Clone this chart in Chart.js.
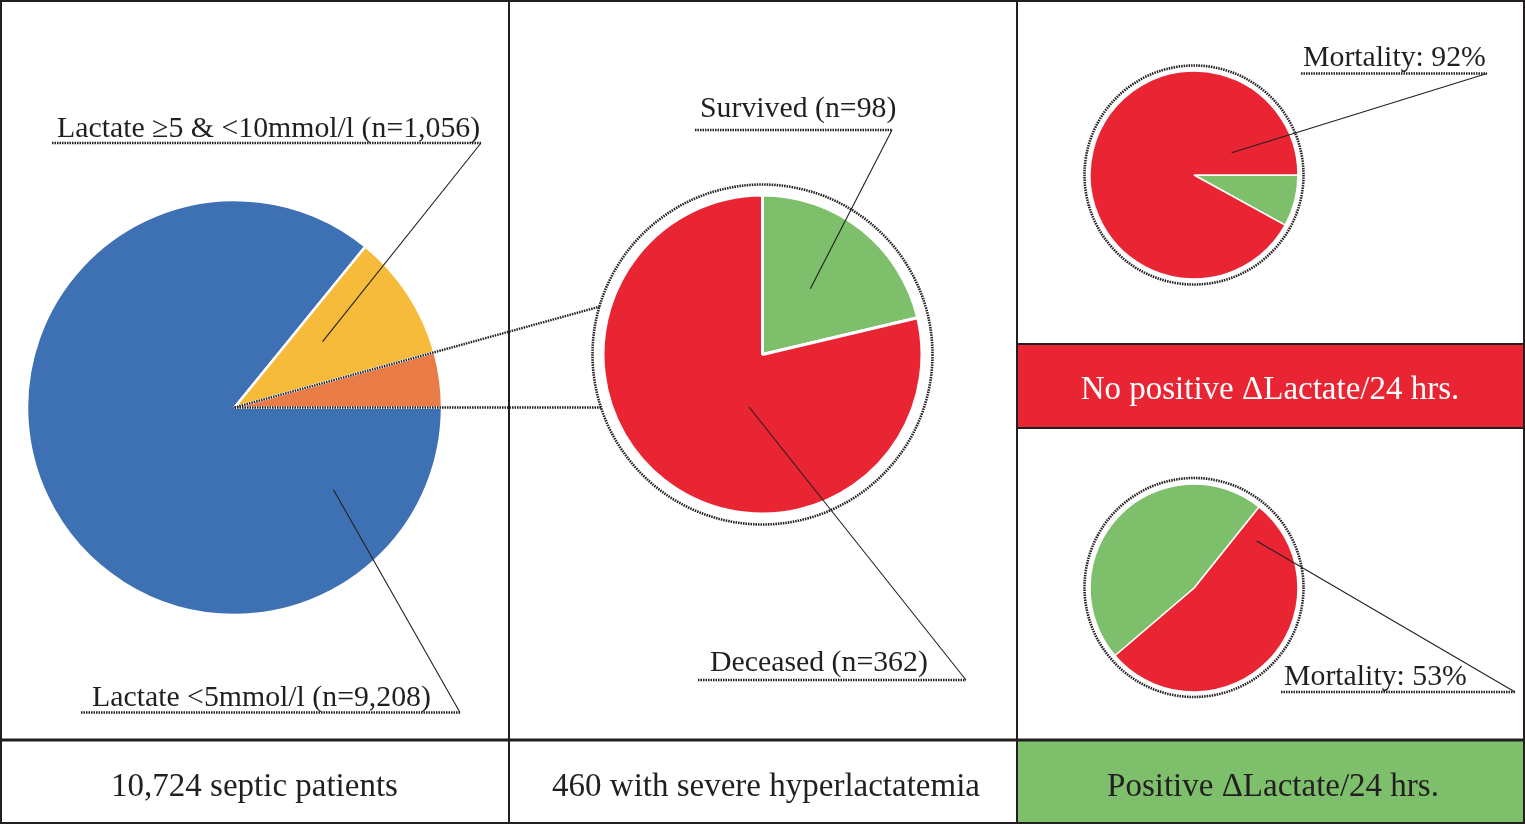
<!DOCTYPE html>
<html>
<head>
<meta charset="utf-8">
<script src="https://cdn.jsdelivr.net/npm/chart.js@4.4.1/dist/chart.umd.min.js"></script>
<style>
  html, body { margin: 0; padding: 0; background: #fff; }
  #stage { position: relative; width: 1525px; height: 824px; overflow: hidden; }
  #stage canvas { position: absolute; }
</style>
</head>
<body>
<div id="stage"><canvas id="overlay" width="1525" height="824" style="left:0;top:0;width:1525px;height:824px"></canvas></div>
<script>
// data
const cohortLabels = ['Lactate <5mmol/l', 'Lactate \u22655 & <10mmol/l', 'Lactate \u226510mmol/l'];
const cohortCounts = [9208, 1056, 460];
const severeLabels = ['Survived', 'Deceased'];
const severeCounts = [98, 362];
const noClearLabels = ['Survived', 'Deceased'];
const noClearPct = [8, 92];
const clearLabels = ['Deceased', 'Survived'];
const clearPct = [53, 47];
const panelTitles = ['10,724 septic patients', '460 with severe hyperlactatemia', 'Positive \u0394Lactate/24 hrs.'];
const bandTitle = 'No positive \u0394Lactate/24 hrs.';

const BLUE = '#3e70b4', YELLOW = '#f7bb3b', ORANGE = '#e97b47';
const RED = '#ea2533', GREEN = '#7dbf6a', INK = '#231f20';
const SERIF = '"Liberation Serif", "Times New Roman", serif';

const stage = document.getElementById('stage');
const overlay = document.getElementById('overlay');

// one small canvas per pie, centred where the pie should sit
function makePie(p) {
  const size = Math.ceil(2 * p.r + 10);
  const cv = document.createElement('canvas');
  cv.width = size; cv.height = size;
  const left = p.cx - size / 2, top = p.cy - size / 2;
  cv.style.left = left + 'px'; cv.style.top = top + 'px';
  cv.style.width = size + 'px'; cv.style.height = size + 'px';
  stage.insertBefore(cv, overlay);
  const chart = new Chart(cv, {
    type: 'pie',
    data: {
      labels: p.labels,
      datasets: [{
        data: p.values,
        backgroundColor: p.colors,
        borderColor: '#fff',
        borderWidth: p.bw,
        radius: p.r,
        rotation: p.rot
      }]
    },
    options: {
      responsive: false,
      animation: false,
      devicePixelRatio: 1,
      events: [],
      layout: { padding: 0 },
      plugins: { legend: { display: false }, tooltip: { enabled: false } }
    }
  });
  chart.offX = left; chart.offY = top;
  return chart;
}

const cohortPie = makePie({ cx: 234.5, cy: 407.5, r: 207.5, labels: cohortLabels, values: cohortCounts,
  colors: [BLUE, YELLOW, ORANGE], bw: 2.5, rot: 90 });
const severePie = makePie({ cx: 762.5, cy: 354.5, r: 159.5, labels: severeLabels, values: severeCounts,
  colors: [GREEN, RED], bw: 3, rot: 0 });
const noClearPie = makePie({ cx: 1194, cy: 175, r: 104, labels: noClearLabels, values: noClearPct,
  colors: [GREEN, RED], bw: 1.5, rot: 90 });
const clearPie = makePie({ cx: 1194, cy: 587.5, r: 104, labels: clearLabels, values: clearPct,
  colors: [RED, GREEN], bw: 1.5, rot: 38.7 });

function centreOf(chart) {
  const arc = chart.getDatasetMeta(0).data[0];
  return { x: chart.offX + arc.x, y: chart.offY + arc.y, r: arc.outerRadius };
}
function pointIn(chart, deg, frac) {
  const c = centreOf(chart), a = deg * Math.PI / 180;
  return { x: c.x + Math.cos(a) * c.r * frac, y: c.y + Math.sin(a) * c.r * frac };
}

const ctx = overlay.getContext('2d');

// coloured cells
ctx.fillStyle = RED; ctx.fillRect(1017, 344, 508, 84);
ctx.fillStyle = GREEN; ctx.fillRect(1017, 741, 508, 83);

// frame
ctx.strokeStyle = INK;
ctx.lineWidth = 2;
ctx.strokeRect(1, 1, 1523, 822);
ctx.beginPath();
ctx.moveTo(509, 0); ctx.lineTo(509, 824);
ctx.moveTo(1017, 0); ctx.lineTo(1017, 824);
ctx.moveTo(1017, 344); ctx.lineTo(1525, 344);
ctx.moveTo(1017, 428); ctx.lineTo(1525, 428);
ctx.stroke();
ctx.lineWidth = 3;
ctx.beginPath(); ctx.moveTo(0, 740); ctx.lineTo(1525, 740); ctx.stroke();

// cell titles
ctx.font = '33px ' + SERIF;
ctx.textAlign = 'center';
ctx.textBaseline = 'alphabetic';
ctx.fillStyle = INK;
ctx.fillText(panelTitles[0], 254.5, 796);
ctx.fillText(panelTitles[1], 766, 796);
ctx.fillText(panelTitles[2], 1273, 796);
ctx.fillStyle = '#fff';
ctx.fillText(bandTitle, 1270, 399);

// dotted rings around the outcome pies
function ring(chart, gap) {
  const c = centreOf(chart);
  ctx.save();
  ctx.strokeStyle = INK; ctx.lineWidth = 2.6; ctx.setLineDash([1.5, 1]);
  ctx.beginPath(); ctx.arc(c.x, c.y, c.r + gap, 0, Math.PI * 2); ctx.stroke();
  ctx.restore();
  return c.r + gap;
}
const severeRing = ring(severePie, 10.5);
ring(noClearPie, 5.5);
ring(clearPie, 5.5);

// connectors along the edges of the >=10 slice to the ring of the middle pie
(function () {
  const arc = cohortPie.getDatasetMeta(0).data[2];
  const c1 = centreOf(cohortPie), c2 = centreOf(severePie);
  ctx.save();
  ctx.strokeStyle = INK; ctx.lineWidth = 2.4; ctx.setLineDash([1.5, 1]);
  [arc.startAngle, arc.endAngle].forEach(a => {
    const dx = Math.cos(a), dy = Math.sin(a);
    const fx = c1.x - c2.x, fy = c1.y - c2.y;
    const b = fx * dx + fy * dy, cc = fx * fx + fy * fy - severeRing * severeRing;
    const t = -b - Math.sqrt(b * b - cc);
    ctx.beginPath(); ctx.moveTo(c1.x, c1.y); ctx.lineTo(c1.x + dx * t, c1.y + dy * t); ctx.stroke();
  });
  ctx.restore();
})();

// labels with dotted underline and a leader into the slice
function callout(text, tx, ty, ux1, ux2, uy, target) {
  ctx.save();
  ctx.font = '29.8px ' + SERIF;
  ctx.textAlign = 'left';
  ctx.fillStyle = INK;
  ctx.fillText(text, tx, ty);
  ctx.strokeStyle = INK;
  ctx.lineWidth = 2.4; ctx.setLineDash([1.5, 1]);
  ctx.beginPath(); ctx.moveTo(ux1, uy); ctx.lineTo(ux2, uy); ctx.stroke();
  ctx.setLineDash([]); ctx.lineWidth = 1.1;
  ctx.beginPath(); ctx.moveTo(ux2, uy); ctx.lineTo(target.x, target.y); ctx.stroke();
  ctx.restore();
}
const fmt = n => n.toLocaleString('en-US');

callout(cohortLabels[1] + ' (n=' + fmt(cohortCounts[1]) + ')', 57, 137, 52, 481, 143, pointIn(cohortPie, -36.8, 0.53));
callout(cohortLabels[0] + ' (n=' + fmt(cohortCounts[0]) + ')', 92, 706, 81, 460, 712.5, pointIn(cohortPie, 39.7, 0.62));
callout(severeLabels[0] + ' (n=' + severeCounts[0] + ')', 700, 117, 695, 892, 130, pointIn(severePie, -54, 0.51));
callout(severeLabels[1] + ' (n=' + severeCounts[1] + ')', 710, 671, 698, 966, 680, pointIn(severePie, 104.4, 0.34));
callout('Mortality: ' + noClearPct[1] + '%', 1303, 66, 1301, 1487, 73.5, pointIn(noClearPie, -30.5, 0.42));
callout('Mortality: ' + clearPct[0] + '%', 1284, 685, 1281, 1515, 692, pointIn(clearPie, -36.6, 0.75));
</script>
</body>
</html>
